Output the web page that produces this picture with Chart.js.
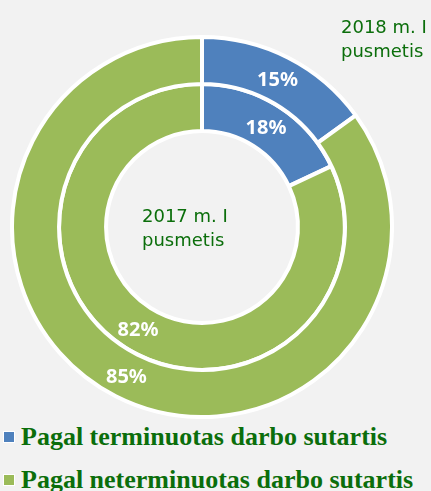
<!DOCTYPE html>
<html>
<head>
<meta charset="utf-8">
<script src="https://cdn.jsdelivr.net/npm/chart.js@4.4.0/dist/chart.umd.min.js"></script>
<style>
  body { margin:0; background:#f2f2f2; width:431px; height:491px; overflow:hidden; position:relative; }
  #wrap { position:absolute; left:10px; top:35px; width:384px; height:384px; }
  .note { position:absolute; font-family:"DejaVu Sans", sans-serif; font-size:18px; line-height:24px; color:#0b6e0b; }
  .leg { position:absolute; left:3px; font-family:"Liberation Serif", serif; font-weight:bold; font-size:26px; line-height:30px; color:#0b6e0b; white-space:nowrap; }
  .leg span.box { display:inline-block; width:10px; height:10px; border:1px solid #fff; margin-right:6px; vertical-align:2px; }
</style>
</head>
<body>
<div id="wrap"><canvas id="pie"></canvas></div>
<div class="note" style="left:142px; top:204px;">2017 m. I<br>pusmetis</div>
<div class="note" style="left:341px; top:15px;">2018 m. I<br>pusmetis</div>
<div id="legend"></div>
<script>
// categories
const categories = ['Pagal terminuotas darbo sutartis', 'Pagal neterminuotas darbo sutartis'];
// outer ring = 2018, inner ring = 2017 (percent)
const values2018 = [15, 85];
const values2017 = [18, 82];
const colors = ['#4f81bd', '#9bbb59'];

// legend html
let legendHtml = '';
categories.forEach(function(c, i) {
  legendHtml += '<div class="leg" style="top:' + (422 + i * 43) + 'px"><span class="box" style="background:' + colors[i] + '"></span>' + c + '</div>';
});
document.getElementById('legend').innerHTML = legendHtml;

// draws the % labels in the middle of each arc
const pctLabels = {
  id: 'pctLabels',
  afterDatasetsDraw(chart) {
    const ctx = chart.ctx;
    ctx.save();
    ctx.fillStyle = '#fff';
    ctx.font = 'bold 20px "Noto Sans", sans-serif';
    ctx.textAlign = 'center';
    ctx.textBaseline = 'middle';
    chart.data.datasets.forEach(function(ds, di) {
      chart.getDatasetMeta(di).data.forEach(function(arc, i) {
        const p = arc.tooltipPosition();
        ctx.fillText(ds.data[i] + '%', p.x, p.y + 2);
      });
    });
    ctx.restore();
  }
};

new Chart(document.getElementById('pie'), {
  type: 'doughnut',
  data: {
    labels: categories,
    datasets: [
      { label: '2018 m. I pusmetis', data: values2018, backgroundColor: colors, borderColor: '#fff', borderWidth: 4 },
      { label: '2017 m. I pusmetis', data: values2017, backgroundColor: colors, borderColor: '#fff', borderWidth: 4 }
    ]
  },
  options: {
    responsive: true,
    maintainAspectRatio: false,
    animation: false,
    cutout: '50.5%',
    layout: { padding: 0 },
    plugins: { legend: { display: false }, tooltip: { enabled: false } }
  },
  plugins: [pctLabels]
});
</script>
</body>
</html>
